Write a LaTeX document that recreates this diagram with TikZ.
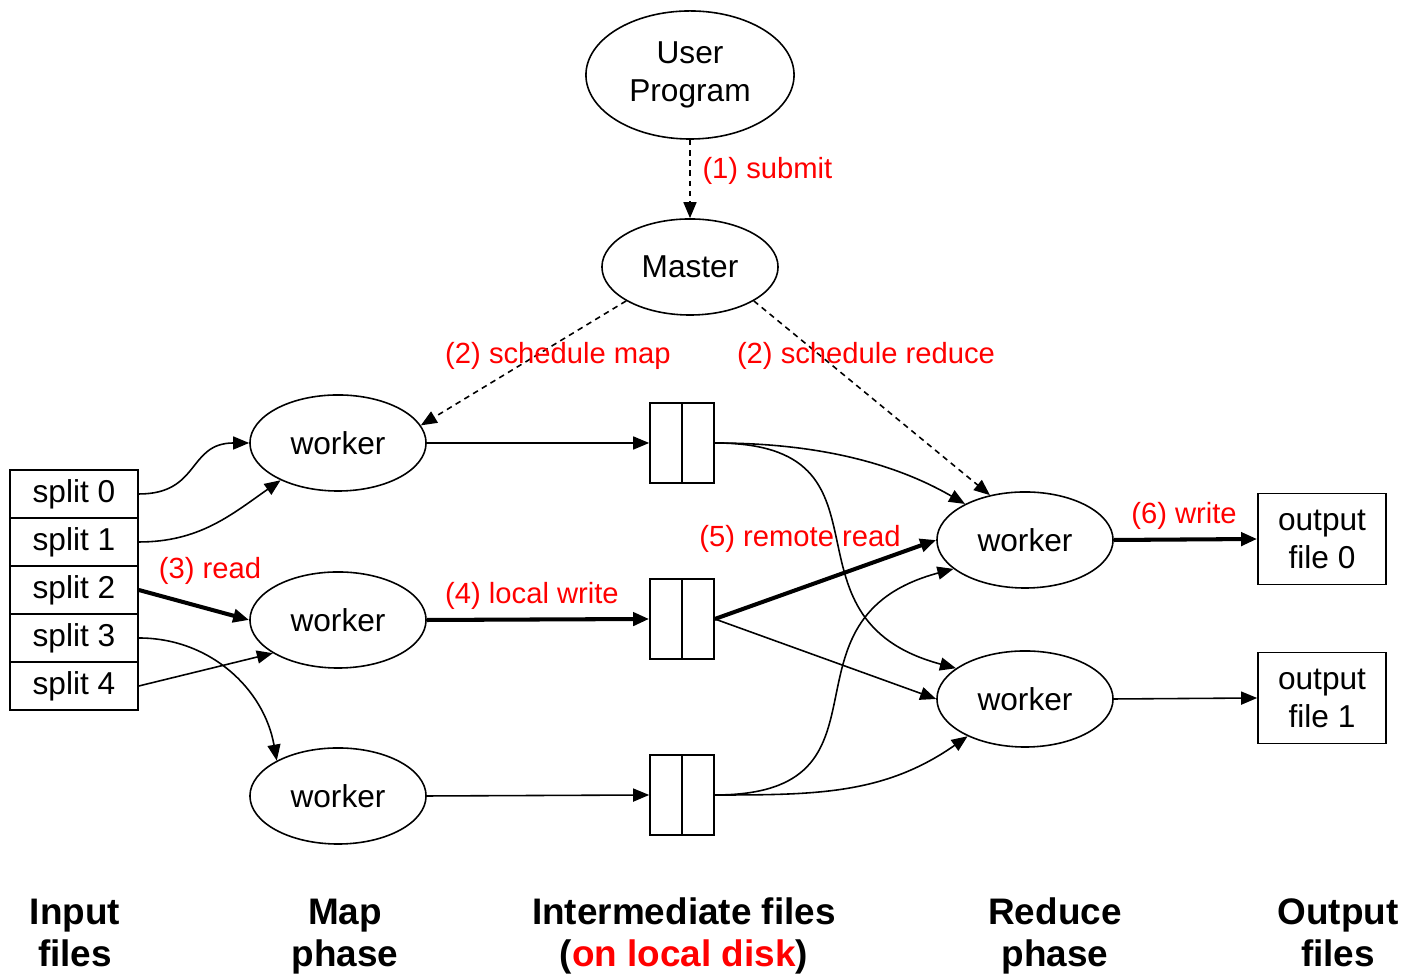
\documentclass[tikz,border=0pt]{standalone}
\usepackage{fontspec}
\setmainfont{Liberation Sans}
\usetikzlibrary{positioning,arrows.meta,shapes.geometric}

\begin{document}
\begin{tikzpicture}[x=0.01cm,y=-0.01cm,line width=0.45pt,
	>={Triangle[length=1.6mm,width=1.3mm]},
	every node/.style={font=\fontsize{9}{10.8}\selectfont},
	proc/.style={draw,ellipse,inner sep=0pt,minimum width=1.76cm,minimum height=0.96cm,align=center},
	splitbox/.style={draw,rectangle,inner sep=0pt,minimum width=1.28cm,minimum height=0.48cm},
	ifile/.style={draw,rectangle,inner sep=0pt,minimum width=0.64cm,minimum height=0.8cm},
	outbox/.style={draw,rectangle,inner sep=0pt,minimum width=1.28cm,minimum height=0.91cm,align=center},
	redlbl/.style={text=red,font=\fontsize{8.3}{10}\selectfont},
	phase/.style={font=\bfseries\fontsize{10.5}{12.2}\selectfont,align=center,anchor=base},
	arr/.style={->},
	boldarr/.style={->,line width=1.15pt},
	dasharr/.style={->,dash pattern=on 1.6pt off 1.3pt}]
			\useasboundingbox (0,0) rectangle (1408,977);
			
			% master side
			\node[proc,minimum width=2.08cm,minimum height=1.28cm] (user) at (690,75) {User\\Program};
			\node[proc] (master) at (690,267) {Master};
			
			% input splits
			\node[splitbox] (s0) at (74,494) {split 0};
			\node[splitbox] (s1) at (74,542) {split 1};
			\node[splitbox] (s2) at (74,590) {split 2};
			\node[splitbox] (s3) at (74,638) {split 3};
			\node[splitbox] (s4) at (74,686) {split 4};
			
			% map workers
			\node[proc] (mw1) at (338,443) {worker};
			\node[proc] (mw2) at (338,620) {worker};
			\node[proc] (mw3) at (338,796) {worker};
			
			% intermediate files
			\node[ifile] (f1) at (682,443) {};
			\node[ifile] (f2) at (682,619) {};
			\node[ifile] (f3) at (682,795) {};
			\draw (f1.north) -- (f1.south);
			\draw (f2.north) -- (f2.south);
			\draw (f3.north) -- (f3.south);
			
			% reduce workers and output
			\node[proc] (rw1) at (1025,540) {worker};
			\node[proc] (rw2) at (1025,699) {worker};
			\node[outbox] (o0) at (1322,539) {output\\file 0};
			\node[outbox] (o1) at (1322,698) {output\\file 1};
			
			\draw[dasharr] (user.south) -- (master.north);
			\node[redlbl,anchor=west] (submit) at (690,171) {(1) submit};
			\draw[dasharr] (master.208) -- (mw1.12);
			\draw[dasharr] (master.-28) -- (rw1.128);
			\node[redlbl] (smap) at (558,356) {(2) schedule map};
			\node[redlbl] (sred) at (866,356) {(2) schedule reduce};
			
			\draw[arr] (s0.east) to[out=0,in=180,looseness=1.3] (mw1.west);
			\draw[arr] (s1.east) to[out=0,in=215] (mw1.213);
			\draw[boldarr] (s2.east) -- (mw2.west);
			\draw[arr] (s3.east) to[out=0,in=100] (mw3.150);
			\draw[arr] (s4.east) -- (mw2.207);
			\node[redlbl] (read) at (210,571) {(3) read};
			
			\draw[arr] (mw1.east) -- (f1.west);
			\draw[boldarr] (mw2.east) -- (f2.west);
			\draw[arr] (mw3.east) -- (f3.west);
			\node[redlbl] (lwrite) at (532,596) {(4) local write};
			
			\draw[arr] (f1.east) to[out=0,in=150,looseness=0.9] (rw1.149);
			\draw[arr] (f1.east) to[out=0,in=165,looseness=1.5] (rw2.156);
			\draw[boldarr] (f2.east) -- (rw1.west);
			\draw[arr] (f2.east) -- (rw2.west);
			\draw[arr] (f3.east) to[out=0,in=195,looseness=1.5] (rw1.202);
			\draw[arr] (f3.east) to[out=0,in=215] (rw2.213);
			\node[redlbl] (rread) at (800,539) {(5) remote read};
			
			\draw[boldarr] (rw1.east) -- (o0.west);
			\draw[arr] (rw2.east) -- (o1.west);
			\node[redlbl] (write) at (1184,516) {(6) write};
			
			% phase captions
			\node[phase] (cin) at (75,967) {Input\\files};
			\node[phase] (cmap) at (345,967) {Map\\phase};
			\node[phase] (cmid) at (684,967) {Intermediate files\\(\textcolor{red}{on local disk})};
			\node[phase] (cred) at (1055,967) {Reduce\\phase};
			\node[phase] (cout) at (1338,967) {Output\\files};
\end{tikzpicture}
\end{document}
